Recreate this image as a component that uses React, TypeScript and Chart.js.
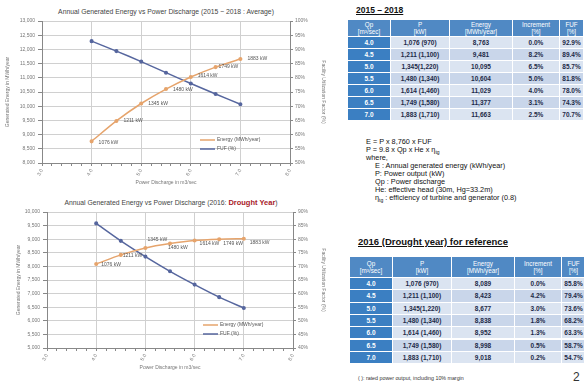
import React, { useEffect, useRef } from "react";
import { Chart, registerables } from "chart.js";

Chart.register(...registerables);

// ---------------- data ----------------
const discharge = [4.0, 4.5, 5.0, 5.5, 6.0, 6.5, 7.0];
const powerKW = [1076, 1211, 1345, 1480, 1614, 1749, 1883];
const powerTableLabels = [
  "1,076 (970)",
  "1,211 (1,100)",
  "1,345(1,220)",
  "1,480 (1,340)",
  "1,614 (1,460)",
  "1,749 (1,580)",
  "1,883 (1,710)",
];
const energyAvg = [8763, 9481, 10095, 10604, 11029, 11377, 11663];
const incrementAvg = [0.0, 8.2, 6.5, 5.0, 4.0, 3.1, 2.5];
const fufAvg = [92.9, 89.4, 85.7, 81.8, 78.0, 74.3, 70.7];
const energyDrought = [8089, 8423, 8677, 8838, 8952, 8998, 9018];
const incrementDrought = [0.0, 4.2, 3.0, 1.8, 1.3, 0.5, 0.2];
const fufDrought = [85.8, 79.4, 73.6, 68.2, 63.3, 58.7, 54.7];

const dischargeAxis = [3, 8];
const dischargeMinorStep = 0.2;
const avgEnergyAxis = [8000, 13000];
const avgFufAxis = [50, 100];
const droughtEnergyAxis = [5000, 10000];
const droughtFufAxis = [40, 90];
const energyTickStep = 500;
const fufTickStep = 5;

const energyLegend = "Energy (MWh/year)";
const fufLegend = "FUF (%)";
const xTitle = "Power Discharge in m3/sec";
const yTitle = "Generated Energy in MWh/year";
const y1Title = "Facility Utilization Factor (%)";
const tableHeaders = [
  ["Qp", "[m³/sec]"],
  ["P", "[kW]"],
  ["Energy", "[MWh/year]"],
  ["Increment", "[%]"],
  ["FUF", "[%]"],
];

// ---------------- styles ----------------
const FONT = '"Liberation Sans", Arial, sans-serif';
const ORANGE = "#e6a46c";
const BLUE = "#56669e";
const W = 326;

type PanelProps = {
  top: number;
  height: number;
  energy: number[];
  fuf: number[];
  energyRange: number[];
  fufRange: number[];
  plot: { left: number; right: number; top: number; bottom: number };
  leftTitlePad: number;
  labelOffsets: number[][];
};

function ChartPanel(p: PanelProps) {
  const ref = useRef<HTMLCanvasElement>(null);
  useEffect(() => {
    const canvas = ref.current as HTMLCanvasElement;
    const isInt = (v: number) => Math.abs(v - Math.round(v)) < 1e-6;
    const kwLabels = {
      id: "kwLabels",
      afterDatasetsDraw(chart: any) {
        const ctx = chart.ctx;
        const meta = chart.getDatasetMeta(0);
        ctx.save();
        ctx.font = `5px ${FONT}`;
        ctx.fillStyle = "#555";
        ctx.textBaseline = "middle";
        ctx.textAlign = "left";
        meta.data.forEach((pt: any, i: number) => {
          const [dx, dy] = p.labelOffsets[i];
          ctx.fillText(`${powerKW[i]} kW`, pt.x + dx, pt.y + dy);
        });
        ctx.restore();
      },
    };
    const innerLegend = {
      id: "innerLegend",
      afterDatasetsDraw(chart: any) {
        const { ctx, chartArea } = chart;
        const x0 = chartArea.right - 90;
        const rows: [string, string, number][] = [
          [energyLegend, ORANGE, chartArea.bottom - 23],
          [fufLegend, BLUE, chartArea.bottom - 14],
        ];
        ctx.save();
        ctx.font = `5px ${FONT}`;
        ctx.textBaseline = "middle";
        ctx.textAlign = "left";
        rows.forEach(([t, c, y]) => {
          ctx.strokeStyle = c;
          ctx.lineWidth = 1.5;
          ctx.beginPath();
          ctx.moveTo(x0, y);
          ctx.lineTo(x0 + 15, y);
          ctx.stroke();
          ctx.fillStyle = "#555";
          ctx.fillText(t, x0 + 17, y);
        });
        ctx.restore();
      },
    };
    const tickFont = { family: FONT, size: 5 };
    const chart = new Chart(canvas, {
      type: "line",
      data: {
        datasets: [
          {
            label: energyLegend,
            data: discharge.map((x, i) => ({ x, y: p.energy[i] })),
            yAxisID: "y",
            borderColor: ORANGE,
            backgroundColor: ORANGE,
            borderWidth: 1.5,
            pointRadius: 1.3,
            tension: 0.25,
          },
          {
            label: fufLegend,
            data: discharge.map((x, i) => ({ x, y: p.fuf[i] })),
            yAxisID: "y1",
            borderColor: BLUE,
            backgroundColor: BLUE,
            borderWidth: 1.5,
            pointRadius: 1.3,
            tension: 0.25,
          },
        ],
      },
      options: {
        responsive: false,
        animation: false,
        layout: { padding: { top: p.plot.top, left: 0, right: 0, bottom: 0 } },
        plugins: {
          legend: { display: false },
          tooltip: { enabled: false },
          title: { display: false },
        },
        scales: {
          x: {
            type: "linear",
            min: dischargeAxis[0],
            max: dischargeAxis[1],
            afterFit: (s: any) => {
              s.height = p.height - p.plot.bottom;
            },
            border: { display: true, color: "#888", width: 1 },
            grid: {
              color: (c: any) => (c.tick && isInt(c.tick.value) ? "#d0d0d0" : "rgba(0,0,0,0)"),
              tickColor: "#888",
              tickLength: 3,
            },
            ticks: {
              stepSize: dischargeMinorStep,
              autoSkip: false,
              minRotation: 60,
              maxRotation: 60,
              padding: 2,
              font: tickFont,
              color: "#777",
              callback: (v: any) => (isInt(Number(v)) ? Number(v).toFixed(1) : ""),
            },
            title: {
              display: true,
              text: xTitle,
              font: tickFont,
              color: "#777",
              padding: { top: 0, bottom: 1 },
            },
          },
          y: {
            position: "left",
            min: p.energyRange[0],
            max: p.energyRange[1],
            afterFit: (s: any) => {
              s.width = p.plot.left;
            },
            border: { display: true, color: "#888", width: 1 },
            grid: { color: "#d0d0d0", tickColor: "#888", tickLength: 4 },
            ticks: {
              stepSize: energyTickStep,
              padding: 3,
              font: tickFont,
              color: "#777",
              callback: (v: any) => Number(v).toLocaleString("en-US"),
            },
            title: {
              display: true,
              text: yTitle,
              font: tickFont,
              color: "#777",
              padding: { top: p.leftTitlePad, bottom: 0 },
            },
          },
          y1: {
            position: "right",
            min: p.fufRange[0],
            max: p.fufRange[1],
            afterFit: (s: any) => {
              s.width = W - p.plot.right;
            },
            border: { display: true, color: "#888", width: 1 },
            grid: { drawOnChartArea: false, tickColor: "#888", tickLength: 3 },
            ticks: {
              stepSize: fufTickStep,
              padding: 2,
              font: tickFont,
              color: "#777",
              callback: (v: any) => `${v}%`,
            },
            title: {
              display: true,
              text: y1Title,
              font: tickFont,
              color: "#777",
              padding: { top: 0, bottom: 4 },
            },
          },
        },
      },
      plugins: [kwLabels, innerLegend],
    } as any);
    return () => chart.destroy();
  }, []);
  return (
    <canvas
      ref={ref}
      width={W}
      height={p.height}
      style={{ position: "absolute", left: 0, top: p.top, width: W, height: p.height }}
    />
  );
}

type TableProps = {
  left: number;
  top: number;
  headerH: number;
  rowH: number;
  energy: number[];
  increment: number[];
  fuf: number[];
};

const colWidths = [43, 59, 63, 47, 24];

function DataTable(t: TableProps) {
  const cells: React.ReactNode[] = [];
  let x = t.left;
  const xs: number[] = colWidths.map((w) => {
    const s = x;
    x += w;
    return s;
  });
  tableHeaders.forEach((h, c) => {
    cells.push(
      <div
        key={`h${c}`}
        style={{
          position: "absolute",
          left: xs[c],
          top: t.top,
          width: colWidths[c] - 1,
          height: t.headerH - 1,
          background: "#5089c4",
          color: "#fff",
          fontSize: 6.3,
          lineHeight: "7px",
          display: "flex",
          flexDirection: "column",
          alignItems: "center",
          justifyContent: "center",
          textAlign: "center",
        }}
      >
        <span>{h[0]}</span>
        <span>{h[1]}</span>
      </div>
    );
  });
  discharge.forEach((q, r) => {
    const y = t.top + t.headerH + r * t.rowH;
    const vals = [
      q.toFixed(1),
      powerTableLabels[r],
      t.energy[r].toLocaleString("en-US"),
      `${t.increment[r].toFixed(1)}%`,
      `${t.fuf[r].toFixed(1)}%`,
    ];
    vals.forEach((v, c) => {
      const first = c === 0;
      cells.push(
        <div
          key={`c${r}_${c}`}
          style={{
            position: "absolute",
            left: xs[c],
            top: y,
            width: colWidths[c] - 1,
            height: t.rowH - 1,
            background: first ? "#3b7fc2" : r % 2 === 0 ? "#dbe4f1" : "#c9d6ea",
            color: first ? "#fff" : "#1d2a48",
            fontWeight: 700,
            fontSize: 6.5,
            lineHeight: `${t.rowH - 1}px`,
            textAlign: "center",
            whiteSpace: "nowrap",
            overflow: "hidden",
          }}
        >
          {v}
        </div>
      );
    });
  });
  return <>{cells}</>;
}

const textLine = (left: number, top: number, content: React.ReactNode, key: string) => (
  <div
    key={key}
    style={{
      position: "absolute",
      left,
      top,
      fontSize: 7.3,
      lineHeight: "8px",
      color: "#111",
      whiteSpace: "nowrap",
    }}
  >
    {content}
  </div>
);

export default function App() {
  return (
    <div
      style={{
        position: "absolute",
        left: 0,
        top: 0,
        width: 584,
        height: 387,
        overflow: "hidden",
        background: "#fff",
        fontFamily: FONT,
      }}
    >
      <div
        style={{
          position: "absolute",
          left: 36,
          top: 8,
          width: 260,
          textAlign: "center",
          fontSize: 6.8,
          lineHeight: "8px",
          color: "#444",
          whiteSpace: "nowrap",
        }}
      >
        Annual Generated Energy vs Power Discharge (2015 ~ 2018 : Average)
      </div>
      <ChartPanel
        top={0}
        height={187}
        energy={energyAvg}
        fuf={fufAvg}
        energyRange={avgEnergyAxis}
        fufRange={avgFufAxis}
        plot={{ left: 42, right: 290, top: 21, bottom: 163 }}
        leftTitlePad={5}
        labelOffsets={[[7, 1], [7, 0], [7, 0], [7, 1], [7, -1], [3, 0], [7, 0]]}
      />
      <div
        style={{
          position: "absolute",
          left: 41,
          top: 199,
          width: 260,
          textAlign: "center",
          fontSize: 6.8,
          lineHeight: "8px",
          color: "#444",
          whiteSpace: "nowrap",
        }}
      >
        Annual Generated Energy vs Power Discharge (2016:{" "}
        <span style={{ color: "#a8202a", fontWeight: 700, fontSize: 7.5 }}>Drought Year</span>)
      </div>
      <ChartPanel
        top={190}
        height={182}
        energy={energyDrought}
        fuf={fufDrought}
        energyRange={droughtEnergyAxis}
        fufRange={droughtFufAxis}
        plot={{ left: 47, right: 293, top: 22, bottom: 158 }}
        leftTitlePad={16}
        labelOffsets={[[5, 1], [2, 1], [2, -8], [-2, 4], [5, 3], [4, 4], [6, 4]]}
      />

      <div
        style={{
          position: "absolute",
          left: 356,
          top: 5,
          fontSize: 8.5,
          fontWeight: 700,
          textDecoration: "underline",
          color: "#111",
          whiteSpace: "nowrap",
        }}
      >
        2015 – 2018
      </div>
      <DataTable left={348} top={20} headerH={17} rowH={12} energy={energyAvg} increment={incrementAvg} fuf={fufAvg} />

      {textLine(366, 138, "E = P x 8,760 x FUF", "f1")}
      {textLine(
        366,
        146,
        <>
          P = 9.8 x Qp x He x η<sub style={{ fontSize: 5 }}>tg</sub>
        </>,
        "f2"
      )}
      {textLine(366, 154, "where,", "f3")}
      {textLine(375, 162, "E : Annual generated energy (kWh/year)", "f4")}
      {textLine(375, 170, "P: Power output (kW)", "f5")}
      {textLine(375, 178, "Qp : Power discharge", "f6")}
      {textLine(375, 186, "He: effective head (30m, Hg=33.2m)", "f7")}
      {textLine(
        375,
        194,
        <>
          η<sub style={{ fontSize: 5 }}>tg</sub> : efficiency of turbine and generator (0.8)
        </>,
        "f8"
      )}

      <div
        style={{
          position: "absolute",
          left: 358,
          top: 236,
          fontSize: 9.5,
          fontWeight: 700,
          textDecoration: "underline",
          color: "#111",
          whiteSpace: "nowrap",
        }}
      >
        2016 (Drought year) for reference
      </div>
      <DataTable
        left={350}
        top={257}
        headerH={21}
        rowH={12.3}
        energy={energyDrought}
        increment={incrementDrought}
        fuf={fufDrought}
      />
      <div
        style={{
          position: "absolute",
          left: 358,
          top: 375,
          fontSize: 5.3,
          color: "#333",
          whiteSpace: "nowrap",
        }}
      >
        ( ): rated power output, including 10% margin
      </div>
      <div style={{ position: "absolute", left: 573, top: 370, fontSize: 12, color: "#333" }}>2</div>
    </div>
  );
}
